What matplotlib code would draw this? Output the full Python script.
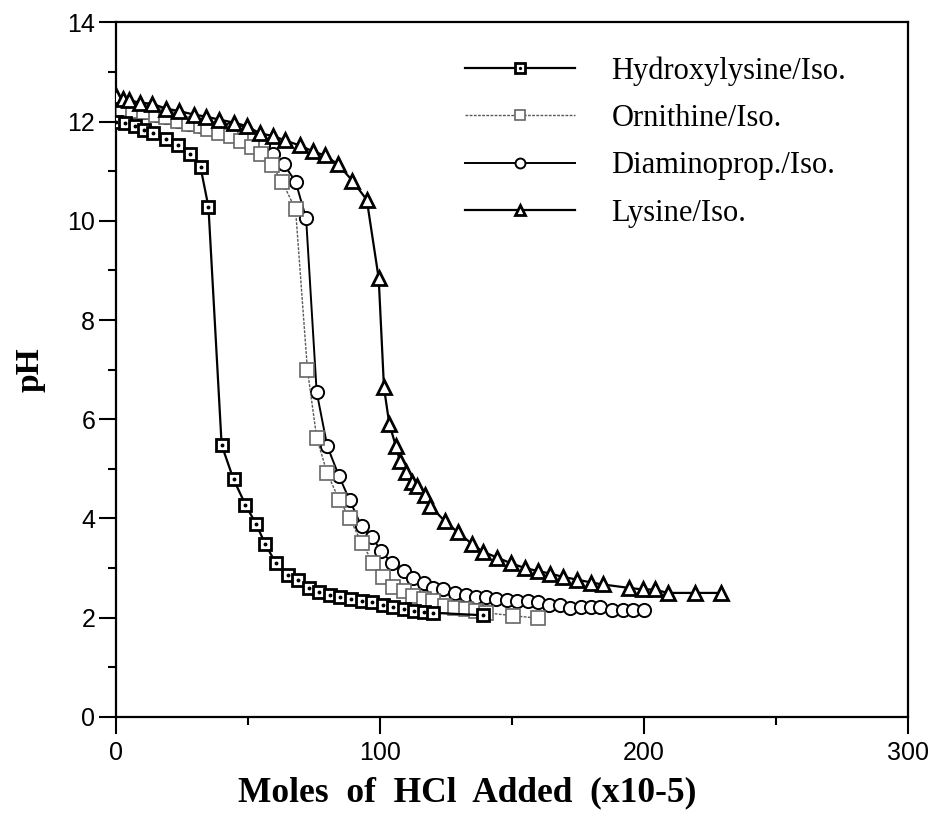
import matplotlib
matplotlib.use("Agg")
import matplotlib.pyplot as plt
from matplotlib.ticker import MultipleLocator

# === DATA ===
hyl_x = [0, 3.5, 7, 10.5, 14, 19, 23.5, 28, 32, 35, 40, 44.5, 49, 53, 56.5, 60.5, 65, 69, 73, 77,
         81, 85, 89, 93, 97, 101, 105, 109, 113, 116.5, 120, 139]
hyl_y = [12.0, 11.97, 11.91, 11.82, 11.76, 11.64, 11.52, 11.34, 11.08, 10.28, 5.48, 4.79, 4.28, 3.89,
         3.49, 3.10, 2.87, 2.77, 2.59, 2.52, 2.46, 2.42, 2.38, 2.34, 2.31, 2.26, 2.21, 2.18, 2.14,
         2.11, 2.10, 2.05]

orn_x = [0, 2.5, 6.5, 10.5, 15, 19, 23.5, 27.5, 32, 35, 39, 43.5, 47.5, 51.5, 55, 59, 63, 68,
         72.5, 76, 80, 84.5, 88.5, 93, 97.5, 101, 105, 109, 112.5, 116.5, 120, 124.5, 128.5,
         132.5, 136.5, 140, 150.5, 160]
orn_y = [12.32, 12.26, 12.21, 12.19, 12.13, 12.09, 12.02, 11.95, 11.91, 11.84, 11.76, 11.71, 11.6,
         11.49, 11.35, 11.12, 10.78, 10.23, 7.0, 5.63, 4.91, 4.38, 4.01, 3.51, 3.1, 2.83, 2.62,
         2.53, 2.43, 2.38, 2.33, 2.23, 2.2, 2.18, 2.14, 2.1, 2.04, 1.99]

# early diaminoprop points sit under the other markers in the scan
dap_x = [0, 2.5, 6.5, 10.5, 15, 19, 23.5, 27.5, 32, 35, 39.5, 44, 47.5, 51.5, 55.5, 59.5, 63.5,
         68, 72, 76, 80, 84.5, 88.5, 93, 97, 100.5, 104.5, 109, 112.5, 116.5, 120, 124, 128.5,
         132.5, 136.5, 140, 144, 148, 152, 156, 160, 164, 168, 172, 176, 180, 183.5, 188, 192,
         196, 200]
dap_y = [12.32, 12.26, 12.21, 12.19, 12.13, 12.09, 12.02, 11.95, 11.91, 11.88, 11.88, 11.86, 11.79,
         11.69, 11.52, 11.35, 11.14, 10.79, 10.05, 6.55, 5.46, 4.85, 4.37, 3.84, 3.62, 3.34,
         3.1, 2.94, 2.81, 2.7, 2.6, 2.58, 2.5, 2.46, 2.42, 2.42, 2.38, 2.36, 2.33, 2.33, 2.31,
         2.26, 2.26, 2.2, 2.22, 2.22, 2.22, 2.16, 2.16, 2.16, 2.16]

lys_x = [0, 2.5, 5, 9, 13.5, 19, 24, 29.5, 34, 39, 44.5, 49.5, 54.5, 59.5, 64, 69.5, 74.5, 79, 84,
         89.5, 95, 99.5, 101.5, 103.5, 106, 107.5, 110, 112, 114, 117, 119, 124.5, 129.5, 135,
         139, 144.5, 149.5, 155, 160, 164.5, 169.5, 174.5, 180, 184.5, 194.5, 199.5, 204, 209,
         219.5, 229]
lys_y = [12.52, 12.46, 12.43, 12.38, 12.36, 12.26, 12.21, 12.14, 12.1, 12.04, 11.98, 11.91, 11.76,
         11.71, 11.62, 11.52, 11.4, 11.32, 11.14, 10.81, 10.42, 8.84, 6.64, 5.91, 5.46, 5.16,
         4.94, 4.74, 4.65, 4.48, 4.25, 3.95, 3.72, 3.48, 3.33, 3.21, 3.1, 3.0, 2.94, 2.89, 2.82,
         2.77, 2.71, 2.67, 2.6, 2.57, 2.57, 2.5, 2.5, 2.5]

labels = ["Hydroxylysine/Iso.", "Ornithine/Iso.", "Diaminoprop./Iso.", "Lysine/Iso."]

serif = ["Liberation Serif", "DejaVu Serif"]
sans = ["Liberation Sans Narrow", "Liberation Sans", "DejaVu Sans"]

fig = plt.figure(figsize=(9.36, 8.26), dpi=100)
ax = fig.add_axes([0.124, 0.132, 0.846, 0.841])

# Hydroxylysine: bold square with a dot inside
h1, = ax.plot(hyl_x, hyl_y, color="black", lw=1.6, marker="s", ms=9, mfc="white",
              mec="black", mew=2.0, zorder=4)
h1d, = ax.plot(hyl_x, hyl_y, ls="none", marker="o", ms=1.8, color="black", zorder=5)

# Diaminopropionic: open circles
h3, = ax.plot(dap_x, dap_y, color="black", lw=1.4, marker="o", ms=9.5, mfc="white",
              mec="black", mew=1.4, zorder=2)

# Ornithine: light grey squares, thin dotted line
h2, = ax.plot(orn_x, orn_y, color="0.35", lw=1.0, ls=(0, (2, 1)), marker="s", ms=9.5,
              mfc="white", mec="0.4", mew=1.2, zorder=3)

# Lysine: open triangles
h4, = ax.plot(lys_x, lys_y, color="black", lw=1.6, marker="^", ms=9.5, mfc="white",
              mec="black", mew=2.0, zorder=6)

ax.set_xlim(0, 300)
ax.set_ylim(0, 14)
ax.xaxis.set_major_locator(MultipleLocator(100))
ax.xaxis.set_minor_locator(MultipleLocator(50))
ax.yaxis.set_major_locator(MultipleLocator(2))
ax.yaxis.set_minor_locator(MultipleLocator(1))
ax.tick_params(which="major", direction="out", length=12, width=1.5, pad=5, labelsize=18)
ax.tick_params(axis="y", which="major", pad=3)
ax.tick_params(which="minor", direction="out", length=6, width=1.5)
for lab in ax.get_xticklabels() + ax.get_yticklabels():
    lab.set_family(sans)
for sp in ax.spines.values():
    sp.set_linewidth(1.6)

ax.set_xlabel("Moles  of  HCl  Added  (x10-5)", family=serif, fontsize=25.5, fontweight="bold")
ax.set_ylabel("pH", family=serif, fontsize=24, fontweight="bold")
ax.xaxis.set_label_coords(0.444, -0.086)
ax.yaxis.set_label_coords(-0.089, 0.5)

ax.legend([(h1, h1d), h2, h3, h4], labels, loc="upper left",
          bbox_to_anchor=(0.425, 0.969), borderaxespad=0, frameon=False, numpoints=1,
          handlelength=3.6, handletextpad=1.2, labelspacing=0.6, markerscale=0.75,
          prop={"family": serif, "size": 22})

fig.savefig("out.png", dpi=100)
